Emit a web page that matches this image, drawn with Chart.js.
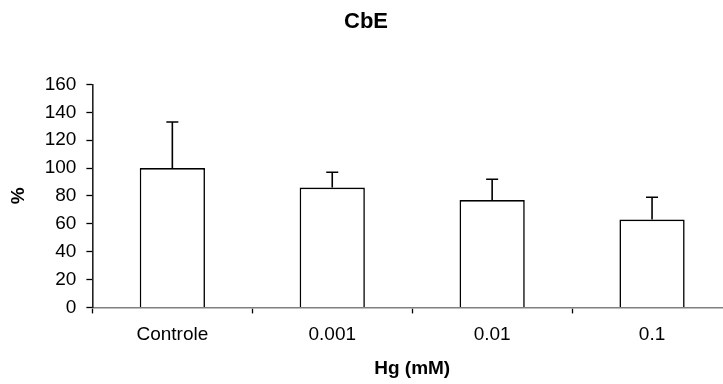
<!DOCTYPE html>
<html>
<head>
<meta charset="utf-8">
<script src="https://cdn.jsdelivr.net/npm/chart.js@4/dist/chart.umd.min.js"></script>
<style>
  html, body { margin: 0; padding: 0; overflow: hidden; background: #fff; }
  #wrap { width: 732px; height: 384px; }
</style>
</head>
<body>
<div id="wrap"><canvas id="c" width="732" height="384"></canvas></div>
<script>
const categories = ['Controle', '0.001', '0.01', '0.1'];
const means = [100, 86, 77, 63];
const errors = [33, 11, 15, 16];
const yTicks = [0, 20, 40, 60, 80, 100, 120, 140, 160];

const FONT = '"Liberation Sans", Arial, Helvetica, sans-serif';

const errorBars = {
  id: 'errorBars',
  afterDatasetsDraw(chart) {
    const ctx = chart.ctx;
    const meta = chart.getDatasetMeta(0);
    const y = chart.scales.y;
    ctx.save();
    ctx.strokeStyle = '#000';
    ctx.lineWidth = 1.6;
    meta.data.forEach((bar, i) => {
      const top = y.getPixelForValue(means[i] + errors[i]);
      const base = y.getPixelForValue(means[i]);
      ctx.beginPath();
      ctx.moveTo(bar.x, base);
      ctx.lineTo(bar.x, top);
      ctx.moveTo(bar.x - 6, top);
      ctx.lineTo(bar.x + 6, top);
      ctx.stroke();
    });
    ctx.restore();
  }
};

new Chart(document.getElementById('c'), {
  type: 'bar',
  data: {
    labels: categories,
    datasets: [{
      data: means,
      backgroundColor: '#ffffff',
      borderColor: '#000000',
      borderWidth: 1.6,
      categoryPercentage: 1,
      barPercentage: 0.408
    }]
  },
  options: {
    responsive: false,
    animation: false,
    devicePixelRatio: 1,
    layout: { padding: { left: 0, right: 0, top: 0, bottom: 0 } },
    plugins: {
      legend: { display: false },
      tooltip: { enabled: false },
      title: {
        display: true,
        text: 'CbE',
        color: '#000',
        font: { family: FONT, size: 22, weight: 'bold' },
        padding: { top: 9, bottom: 49 }
      }
    },
    scales: {
      x: {
        offset: true,
        grid: {
          offset: true,
          drawOnChartArea: false,
          drawTicks: true,
          tickLength: 6,
          tickColor: '#000',
          tickWidth: 1.3,
          color: '#000'
        },
        border: { display: true, color: '#808080', width: 1.6 },
        ticks: {
          color: '#000',
          padding: 10,
          font: { family: FONT, size: 19 }
        },
        title: {
          display: true,
          text: 'Hg (mM)',
          color: '#000',
          font: { family: FONT, size: 19, weight: 'bold' },
          padding: { top: 1, bottom: 4 }
        }
      },
      y: {
        min: 0,
        max: 160,
        afterBuildTicks(scale) { scale.ticks = yTicks.map(v => ({ value: v })); },
        grid: {
          drawOnChartArea: false,
          drawTicks: true,
          tickLength: 6,
          tickColor: '#000',
          tickWidth: 1.3,
          color: '#000'
        },
        border: { display: true, color: '#222', width: 1.6 },
        ticks: {
          color: '#000',
          padding: 10,
          font: { family: FONT, size: 19 }
        },
        title: {
          display: true,
          text: '%',
          color: '#000',
          font: { family: FONT, size: 19, weight: 'bold' },
          padding: { top: 7.6, bottom: 4.3 }
        }
      }
    }
  },
  plugins: [errorBars]
});
</script>
</body>
</html>
